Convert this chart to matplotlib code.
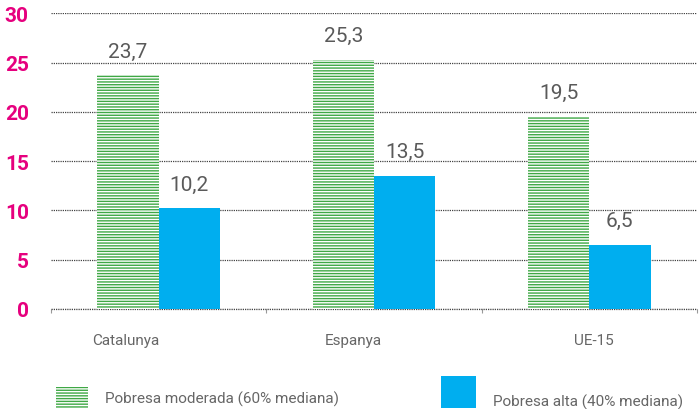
import numpy as np
import matplotlib as mpl
mpl.use("Agg")
import matplotlib.pyplot as plt
from matplotlib.patches import Rectangle

# data
categories = ["Catalunya", "Espanya", "UE-15"]
moderada = [23.7, 25.3, 19.5]
alta = [10.2, 13.5, 6.5]
series_names = ["Pobresa moderada (60% mediana)", "Pobresa alta (40% mediana)"]
yticks = [0, 5, 10, 15, 20, 25, 30]

green = "#3fa845"
blue = "#00aeef"
magenta = "#e6007e"
grey_txt = "#5a5a5a"
narrow = ["Roboto", "DejaVu Sans"]

mpl.rcParams["hatch.linewidth"] = 1.0

fig = plt.figure(figsize=(6.99, 4.10), dpi=100)
ax = fig.add_axes([0.073, 0.244, 0.924, 0.721])

x = np.arange(len(categories))
w = 0.285

ax.bar(x - w / 2, moderada, width=w, facecolor="white", edgecolor=green,
       linewidth=0, hatch="------", zorder=2)
ax.bar(x + w / 2, alta, width=w, color=blue, linewidth=0, zorder=2)

# value labels
for xi, v in zip(x - w / 2, moderada):
    ax.text(xi, v + 1.9, ("%.1f" % v).replace(".", ","), ha="center", va="baseline",
            fontsize=15, color=grey_txt, family=["Roboto", "DejaVu Sans"])
for xi, v in zip(x + w / 2, alta):
    ax.text(xi, v + 1.9, ("%.1f" % v).replace(".", ","), ha="center", va="baseline",
            fontsize=15, color=grey_txt, family=["Roboto", "DejaVu Sans"])

ax.set_xlim(-0.5, len(categories) - 0.5)
ax.set_ylim(0, 30)
ax.set_yticks(yticks)
ax.set_yticklabels([str(t) for t in yticks], fontsize=15, fontweight="bold",
                   color=magenta, family=["Roboto", "DejaVu Sans"])
ax.tick_params(axis="y", length=0, pad=16)

# category labels (slightly offset, as in the source)
label_shift = [-0.153, -0.098, 0.023]
ax.set_xticks(x + np.array(label_shift))
ax.set_xticklabels(categories, fontsize=11, color="#666666", family=narrow)
ax.tick_params(axis="x", length=0, pad=17)
ax.set_xticks(np.arange(-0.5, len(categories)), minor=True)
ax.tick_params(axis="x", which="minor", length=3, color="#999999", width=0.8)

ax.yaxis.grid(True, linestyle=(0, (1, 0.8)), linewidth=0.9, color="#444444")
ax.axhline(0, linestyle=(0, (1, 0.8)), linewidth=0.9, color="#444444", clip_on=False, zorder=1)
ax.set_axisbelow(True)
for s in ax.spines.values():
    s.set_visible(False)

# legend drawn by hand at the bottom
fig.add_artist(Rectangle((0.080, 0.0024), 0.0458, 0.051, transform=fig.transFigure,
                         facecolor="white", edgecolor=green, linewidth=0, hatch="------"))
fig.text(0.150, 0.0268, series_names[0], ha="left", va="center", fontsize=11,
         color="#666666", family=narrow)
fig.add_artist(Rectangle((0.631, 0.0024), 0.050, 0.078, transform=fig.transFigure,
                         facecolor=blue, linewidth=0))
fig.text(0.705, 0.0195, series_names[1], ha="left", va="center", fontsize=11,
         color="#666666", family=narrow)

plt.savefig("out.png", dpi=100)
